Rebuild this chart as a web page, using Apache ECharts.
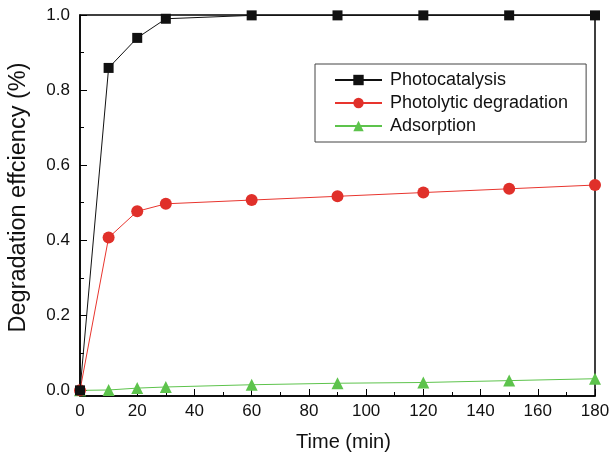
<!DOCTYPE html>
<html>
<head>
<meta charset="utf-8">
<script src="https://cdn.jsdelivr.net/npm/echarts@6/dist/echarts.min.js"></script>
<style>
  html, body { margin: 0; padding: 0; background: #fff; }
  #main { width: 612px; height: 456px; }
</style>
</head>
<body>
<div id="main"></div>
<script>
// time points (min)
const times = [0, 10, 20, 30, 60, 90, 120, 150, 180]
const photocatalysis = [0, 0.859, 0.939, 0.990, 0.999, 0.999, 0.999, 0.999, 0.999]
const photolytic = [0, 0.407, 0.477, 0.497, 0.507, 0.517, 0.527, 0.537, 0.547]
const adsorption = [0, 0.001, 0.006, 0.009, 0.015, 0.019, 0.021, 0.026, 0.031]
const yMajor = [0, 0.2, 0.4, 0.6, 0.8, 1.0]
const yMinor = [0.1, 0.3, 0.5, 0.7, 0.9]

const font = 'Liberation Sans, Arial, Helvetica, sans-serif'

function pairs(ys) {
  return times.map((t, i) => [t, ys[i]])
}

const chart = echarts.init(document.getElementById('main'))
const option = {
  animation: false,
  textStyle: { fontFamily: font },
  grid: {
    left: 80, right: 17, top: 15, bottom: 60,
    outerBoundsMode: 'none',
    containLabel: false,
    show: true, borderColor: '#000', borderWidth: 1.5,
  },
  legend: {
    orient: 'vertical',
    left: 315, top: 64,
    padding: [7, 18, 7, 19],
    itemGap: 5,
    itemWidth: 47,
    itemHeight: 13,
    borderColor: '#444',
    borderWidth: 1,
    textStyle: { fontFamily: font, fontSize: 18, color: '#111', padding: [0, 0, 0, 3] },
    data: ['Photocatalysis', 'Photolytic degradation', 'Adsorption'],
  },
  xAxis: {
    type: 'value',
    min: 0, max: 180, interval: 20,
    name: 'Time (min)',
    nameLocation: 'middle',
    nameGap: 36,
    nameTextStyle: { fontFamily: font, fontSize: 20, color: '#111', padding: [0, 0, 0, 12] },
    axisLine: { onZero: false, lineStyle: { color: '#000', width: 1.5 } },
    axisTick: { inside: true, length: 7, lineStyle: { color: '#000' } },
    minorTick: { show: true, splitNumber: 2, length: 4, lineStyle: { color: '#000' } },
    axisLabel: { fontFamily: font, fontSize: 17, color: '#111', margin: 7 },
    splitLine: { show: false },
  },
  yAxis: [
    {
      type: 'value',
      min: -0.015, max: 1.0,
      name: 'Degradation effciency (%)',
      nameLocation: 'middle',
      nameGap: 49,
      nameTextStyle: { fontFamily: font, fontSize: 23.5, color: '#111', padding: [0, 0, 0, 16] },
      axisLine: { show: true, onZero: false, lineStyle: { color: '#000', width: 1.5 } },
      axisTick: { show: true, inside: true, length: 7, customValues: yMajor, lineStyle: { color: '#000' } },
      axisLabel: {
        fontFamily: font, fontSize: 17, color: '#111', margin: 10,
        customValues: yMajor,
        formatter: (v) => v.toFixed(1),
      },
      splitLine: { show: false },
    },
    {
      type: 'value',
      position: 'left',
      min: -0.015, max: 1.0,
      axisLine: { show: false, onZero: false },
      axisTick: { show: true, inside: true, length: 4, customValues: yMinor, lineStyle: { color: '#000' } },
      axisLabel: { show: false },
      splitLine: { show: false },
    },
  ],
  series: [
    {
      name: 'Photocatalysis',
      type: 'line',
      data: pairs(photocatalysis),
      symbol: 'rect',
      symbolSize: 10,
      itemStyle: { color: '#111' },
      lineStyle: { color: '#111', width: 1 },
      z: 4,
    },
    {
      name: 'Photolytic degradation',
      type: 'line',
      data: pairs(photolytic),
      symbol: 'circle',
      symbolSize: 12,
      itemStyle: { color: '#e0302a' },
      lineStyle: { color: '#e8352e', width: 1 },
      z: 3,
    },
    {
      name: 'Adsorption',
      type: 'line',
      data: pairs(adsorption),
      symbol: 'triangle',
      symbolSize: 12,
      itemStyle: { color: '#5dc34c' },
      lineStyle: { color: '#5dc34c', width: 1 },
      z: 2,
    },
  ],
}
chart.setOption(option)
</script>
</body>
</html>
